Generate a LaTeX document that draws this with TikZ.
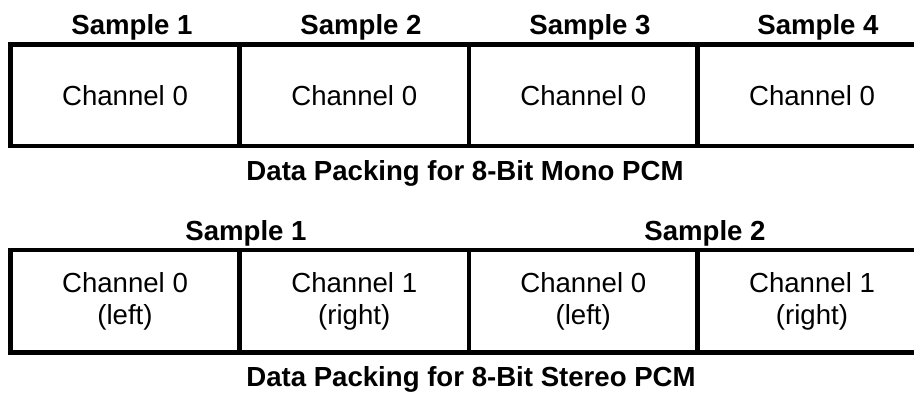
\documentclass[tikz,border=0pt]{standalone}
\usepackage{fontspec}
\setmainfont{Liberation Sans}
\begin{document}
\begin{tikzpicture}[x=0.5pt,y=-0.5pt,
  cell/.style={draw=black, line width=2.25pt, minimum width=114.5pt, inner sep=0pt,
    align=center, font=\fontsize{13.8}{16}\selectfont},
  monocell/.style={cell, minimum height=50.75pt},
  stcell/.style={cell, minimum height=51.25pt},
  head/.style={anchor=base, inner sep=0pt, font=\bfseries\fontsize{13.8}{16}\selectfont},
  title/.style={anchor=base, inner sep=0pt, font=\bfseries\fontsize{13.8}{16}\selectfont}]
\clip (0,0) rectangle (914,392);
% mono row
\node[monocell] (m1) at (125,95.25) {Channel 0};
\node[monocell] (m2) at (354.25,95.25) {Channel 0};
\node[monocell] (m3) at (583.25,95.25) {Channel 0};
\node[monocell] (m4) at (812,95.25) {Channel 0};
\node[head] (s1) at (132,34) {Sample 1};
\node[head] (s2) at (361,34) {Sample 2};
\node[head] (s3) at (590,34) {Sample 3};
\node[head] (s4) at (818,34) {Sample 4};
\node[title] (t1) at (465,180) {Data Packing for 8-Bit Mono PCM};
% stereo row
\node[stcell] (c1) at (125,301.25) {Channel 0\\(left)};
\node[stcell] (c2) at (354.25,301.25) {Channel 1\\(right)};
\node[stcell] (c3) at (583.25,301.25) {Channel 0\\(left)};
\node[stcell] (c4) at (812,301.25) {Channel 1\\(right)};
\node[head] (ss1) at (246,240) {Sample 1};
\node[head] (ss2) at (705,240) {Sample 2};
\node[title] (t2) at (471,386) {Data Packing for 8-Bit Stereo PCM};
\end{tikzpicture}
\end{document}
